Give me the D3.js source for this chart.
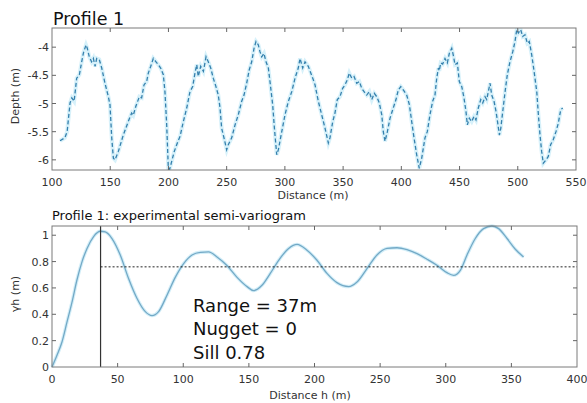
<!DOCTYPE html>
<html>
<head>
<meta charset="utf-8">
<script src="https://cdn.jsdelivr.net/npm/d3@7"></script>
<style>
  body { margin: 0; background: #fff; }
  text { font-family: "DejaVu Sans", Verdana, sans-serif; }
</style>
</head>
<body>
<div id="graph"></div>
<script>
// profile 1: depth along the line
var profileDist = [106.9, 111, 113, 115.5, 117, 119, 121.2, 123.5, 125.5, 127, 129.2, 130.3, 132, 134, 135.5, 137, 138.4, 140.6, 142.7, 145.5,
  148.4, 149.8, 151.3, 152.7, 154.1, 157, 161.2, 165.5, 168.4, 169.8, 172, 175, 177, 179, 181.3, 182.7, 184.8, 187, 189.3, 191.3,
  193.3, 195.6, 197, 198.5, 199.9, 201, 205, 208, 210, 212.8, 215.7, 218.5, 220.8, 222.8, 224.3, 225.6, 227.7, 230, 232.3, 234.2,
  236.3, 238.5, 240.8, 242.8, 244.3, 245.7, 247.7, 250, 251.4, 254.3, 257.2, 260, 262.9, 264.9, 267.2, 269.4, 271.5, 273.5, 275.2, 277.2,
  278.6, 280.1, 282, 283.8, 285.8, 287.2, 289.5, 291, 293, 294.4, 297.3, 300.1, 303, 305.9, 308.7, 311.5, 313, 315.3, 317.3, 320.1,
  323.9, 325.9, 328.7, 331.6, 334.5, 337.3, 338.7, 341.1, 343, 345, 347.3, 349.6, 351.6, 353.6, 355.3, 357.4, 359.4, 361.7, 363.9, 366,
  368, 370.3, 372.5, 374.6, 376.8, 378.9, 381.1, 383.2, 384.5, 386, 388, 390.3, 392.6, 395.4, 397.4, 399.5, 401.7, 404.6, 406.9, 408.9,
  410.9, 413.2, 415.4, 417.5, 420.3, 422.3, 424.6, 426.9, 428.9, 430.4, 431.8, 432.6, 433.8, 435.5, 437.5, 439.5, 441.2, 443.3, 444.6, 446.1,
  448.1, 449.8, 451.9, 453.8, 455.5, 456.7, 458.4, 460.4, 462.4, 464.1, 466.1, 468.2, 469.9, 471.9, 473.3, 474.7, 476.2, 477.6, 479.6, 481.3,
  482.4, 484.2, 485.4, 487.1, 489.1, 491, 493.3, 495.7, 497.6, 499.1, 500.5, 502.5, 504.2, 506.2, 508.2, 509.9, 512, 514, 516.3, 517.7,
  519.1, 520.5, 521.9, 524.2, 526.2, 528.2, 530.5, 532.8, 534.8, 536.9, 538.6];
var profileDepth = [-5.66, -5.61, -5.5, -4.99, -4.9, -4.96, -4.55, -4.49, -4.26, -4.1, -3.96, -4.02, -4.17, -4.26, -4.2, -4.34, -4.2, -4.22, -4.37, -4.64,
  -4.88, -5.02, -5.61, -5.97, -6.0, -5.85, -5.56, -5.32, -5.17, -5.21, -5.05, -4.88, -4.9, -4.67, -4.61, -4.46, -4.34, -4.2, -4.26, -4.31,
  -4.37, -4.49, -4.79, -5.38, -6.15, -6.17, -5.85, -5.68, -5.58, -5.32, -5.08, -4.79, -4.7, -4.46, -4.31, -4.52, -4.34, -4.43, -4.17, -4.26,
  -4.37, -4.55, -4.7, -4.85, -5.08, -5.44, -5.61, -5.82, -5.73, -5.61, -5.38, -5.2, -4.96, -4.85, -4.64, -4.4, -4.26, -4.02, -3.9, -3.96,
  -4.08, -4.17, -4.11, -4.26, -4.37, -4.61, -5.02, -5.44, -5.91, -5.82, -5.5, -5.2, -4.96, -4.79, -4.55, -4.37, -4.2, -4.37, -4.26, -4.34,
  -4.55, -4.67, -4.96, -5.2, -5.44, -5.7, -5.61, -5.32, -5.17, -4.93, -4.88, -4.73, -4.67, -4.58, -4.46, -4.55, -4.52, -4.64, -4.61, -4.73,
  -4.79, -4.85, -4.79, -4.93, -4.82, -4.88, -4.99, -5.2, -5.5, -5.67, -5.5, -5.26, -5.11, -4.93, -4.76, -4.7, -4.76, -4.85, -5.02, -5.32,
  -5.61, -5.91, -6.15, -5.97, -5.61, -5.5, -5.2, -4.96, -4.85, -4.55, -4.37, -4.42, -4.28, -4.3, -4.2, -4.28, -4.11, -4.02, -4.14, -4.31,
  -4.28, -4.61, -4.7, -4.9, -5.14, -5.38, -5.26, -5.32, -5.23, -5.29, -5.08, -4.93, -4.99, -4.88, -4.93, -4.79, -4.64, -4.85, -4.96, -5.14,
  -5.29, -5.56, -5.44, -5.14, -4.79, -4.49, -4.26, -4.08, -3.9, -3.69, -3.75, -3.69, -3.81, -3.78, -3.93, -3.9, -4.14, -4.43, -4.79, -5.2,
  -5.56, -5.85, -6.06, -6.0, -5.94, -5.73, -5.64, -5.5, -5.35, -5.11, -5.08];

// experimental semi-variogram
var lagH = [0, 3.8, 7.6, 11.4, 15.2, 19, 22.9, 26.7, 31.7, 36.8, 40.6, 45.7, 52, 58.4, 64.8, 71.1, 76.2, 81.2, 87.6, 93.9,
  100.3, 106.7, 113, 119.3, 125.7, 133.3, 141, 148.6, 153.6, 160, 166.3, 172.7, 180.3, 186.7, 194.3, 201.9, 209.5, 217.1, 226, 232.4,
  240, 247.6, 255.2, 262.9, 270.5, 278.1, 285.7, 293.3, 300.9, 306, 311.1, 316.2, 322.5, 328.8, 335.2, 340.3, 346.7, 353, 359.3];
var gammaH = [0, 0.089, 0.19, 0.34, 0.49, 0.66, 0.8, 0.9, 0.99, 1.03, 1.025, 0.975, 0.85, 0.67, 0.52, 0.42, 0.39, 0.42, 0.545, 0.68,
  0.785, 0.85, 0.87, 0.873, 0.835, 0.77, 0.68, 0.61, 0.58, 0.62, 0.71, 0.81, 0.9, 0.93, 0.886, 0.81, 0.71, 0.64, 0.61, 0.645,
  0.747, 0.85, 0.9, 0.905, 0.89, 0.86, 0.818, 0.772, 0.716, 0.696, 0.734, 0.85, 0.975, 1.05, 1.07, 1.05, 0.975, 0.894, 0.835];

var rangeH = 37, sillLine = 0.76;
var fitLabels = ["Range = 37m", "Nugget = 0", "Sill 0.78"];

var profileXTicks = [100, 150, 200, 250, 300, 350, 400, 450, 500, 550];
var profileYTicks = [-4, -4.5, -5, -5.5, -6];
var varioXTicks = [0, 50, 100, 150, 200, 250, 300, 350, 400];
var varioYTicks = [0, 0.2, 0.4, 0.6, 0.8, 1];

var W = 587, H = 403;
var svg = d3.select("#graph").append("svg")
  .attr("width", W).attr("height", H);

// draws one boxed axes in the MATLAB look: inward ticks on all four sides
function drawAxes(g, x, y, xt, yt, fmtY) {
  var x0 = x.range()[0], x1 = x.range()[1], y0 = y.range()[0], y1 = y.range()[1];
  g.append("rect").attr("x", x0).attr("y", y1).attr("width", x1 - x0).attr("height", y0 - y1)
    .attr("fill", "none").attr("stroke", "#7a7a7a").attr("stroke-width", 1);

  var inner = xt.filter(function(t) { return x(t) > x0 + 1 && x(t) < x1 - 1; });
  g.selectAll(".xtb").data(inner).enter().append("line")
    .attr("x1", d => x(d)).attr("x2", d => x(d)).attr("y1", y0).attr("y2", y0 - 4)
    .attr("stroke", "#666");
  g.selectAll(".xtt").data(inner).enter().append("line")
    .attr("x1", d => x(d)).attr("x2", d => x(d)).attr("y1", y1).attr("y2", y1 + 4)
    .attr("stroke", "#666");
  var innerY = yt.filter(function(t) { return y(t) < y0 - 1 && y(t) > y1 + 1; });
  g.selectAll(".ytl").data(innerY).enter().append("line")
    .attr("x1", x0).attr("x2", x0 + 4).attr("y1", d => y(d)).attr("y2", d => y(d))
    .attr("stroke", "#666");
  g.selectAll(".ytr").data(innerY).enter().append("line")
    .attr("x1", x1).attr("x2", x1 - 4).attr("y1", d => y(d)).attr("y2", d => y(d))
    .attr("stroke", "#666");

  g.selectAll(".xl").data(xt).enter().append("text")
    .attr("x", d => x(d)).attr("y", y0 + 16)
    .attr("text-anchor", "middle").attr("font-size", 11).attr("fill", "#333")
    .text(d => d);
  g.selectAll(".yl").data(yt).enter().append("text")
    .attr("x", x0 - 3).attr("y", d => y(d) + 4)
    .attr("text-anchor", "end").attr("font-size", 11).attr("fill", "#333")
    .text(fmtY);
}

// ---- top panel: depth profile
var xP = d3.scaleLinear().domain([100, 550]).range([52, 576]);
var yP = d3.scaleLinear().domain([-6.18, -3.66]).range([170, 28]);

var topG = svg.append("g");
svg.append("clipPath").attr("id", "clipP").append("rect")
  .attr("x", 52).attr("y", 28).attr("width", 524).attr("height", 142);

var prof = profileDist.map(function(d, i) { return [d, profileDepth[i]]; });
var lineP = d3.line().x(d => xP(d[0])).y(d => yP(d[1]));

topG.append("path").datum(prof).attr("d", lineP).attr("clip-path", "url(#clipP)")
  .attr("fill", "none").attr("stroke", "#c6ebf8").attr("stroke-width", 4).attr("stroke-opacity", 0.7);
topG.append("path").datum(prof).attr("d", lineP).attr("clip-path", "url(#clipP)")
  .attr("fill", "none").attr("stroke", "#3580ad").attr("stroke-width", 1.3)
  .attr("stroke-dasharray", "4,2.5");

drawAxes(topG, xP, yP, profileXTicks, profileYTicks, d => d);

topG.append("text").attr("x", 53).attr("y", 25).attr("font-size", 17.5).attr("fill", "#111").text("Profile 1");
topG.append("text").attr("x", 313).attr("y", 199).attr("text-anchor", "middle")
  .attr("font-size", 11).attr("fill", "#333").text("Distance (m)");
topG.append("text").attr("transform", "translate(19,96) rotate(-90)").attr("text-anchor", "middle")
  .attr("font-size", 11).attr("fill", "#333").text("Depth (m)");

// ---- bottom panel: semi-variogram
var xV = d3.scaleLinear().domain([0, 400]).range([52, 577]);
var yV = d3.scaleLinear().domain([0, 1.07]).range([367, 226]);

var botG = svg.append("g");
var vario = lagH.map(function(h, i) { return [h, gammaH[i]]; });
var lineV = d3.line().x(d => xV(d[0])).y(d => yV(d[1])).curve(d3.curveMonotoneX);

botG.append("path").datum(vario).attr("d", lineV)
  .attr("fill", "none").attr("stroke", "#d3eef8").attr("stroke-width", 3.5);
botG.append("path").datum(vario).attr("d", lineV)
  .attr("fill", "none").attr("stroke", "#73a9c6").attr("stroke-width", 1.3);

botG.append("line").attr("x1", xV(rangeH)).attr("x2", xV(rangeH))
  .attr("y1", yV(0)).attr("y2", yV(1.07)).attr("stroke", "#333").attr("stroke-width", 1.2);
botG.append("line").attr("x1", xV(rangeH)).attr("x2", xV(400))
  .attr("y1", yV(sillLine)).attr("y2", yV(sillLine))
  .attr("stroke", "#222").attr("stroke-width", 1).attr("stroke-dasharray", "2,2");

drawAxes(botG, xV, yV, varioXTicks, varioYTicks, d => d);

botG.selectAll(".fit").data(fitLabels).enter().append("text")
  .attr("x", 193).attr("y", (d, i) => 311.5 + i * 23.5)
  .attr("font-size", 18).attr("fill", "#111").text(d => d);

botG.append("text").attr("x", 52).attr("y", 220).attr("font-size", 13).attr("fill", "#111")
  .text("Profile 1: experimental semi-variogram");
botG.append("text").attr("x", 310).attr("y", 399).attr("text-anchor", "middle")
  .attr("font-size", 11).attr("fill", "#333").text("Distance h (m)");
botG.append("text").attr("transform", "translate(19,294) rotate(-90)").attr("text-anchor", "middle")
  .attr("font-size", 11).attr("fill", "#333").text("γh (m)");
</script>
</body>
</html>
